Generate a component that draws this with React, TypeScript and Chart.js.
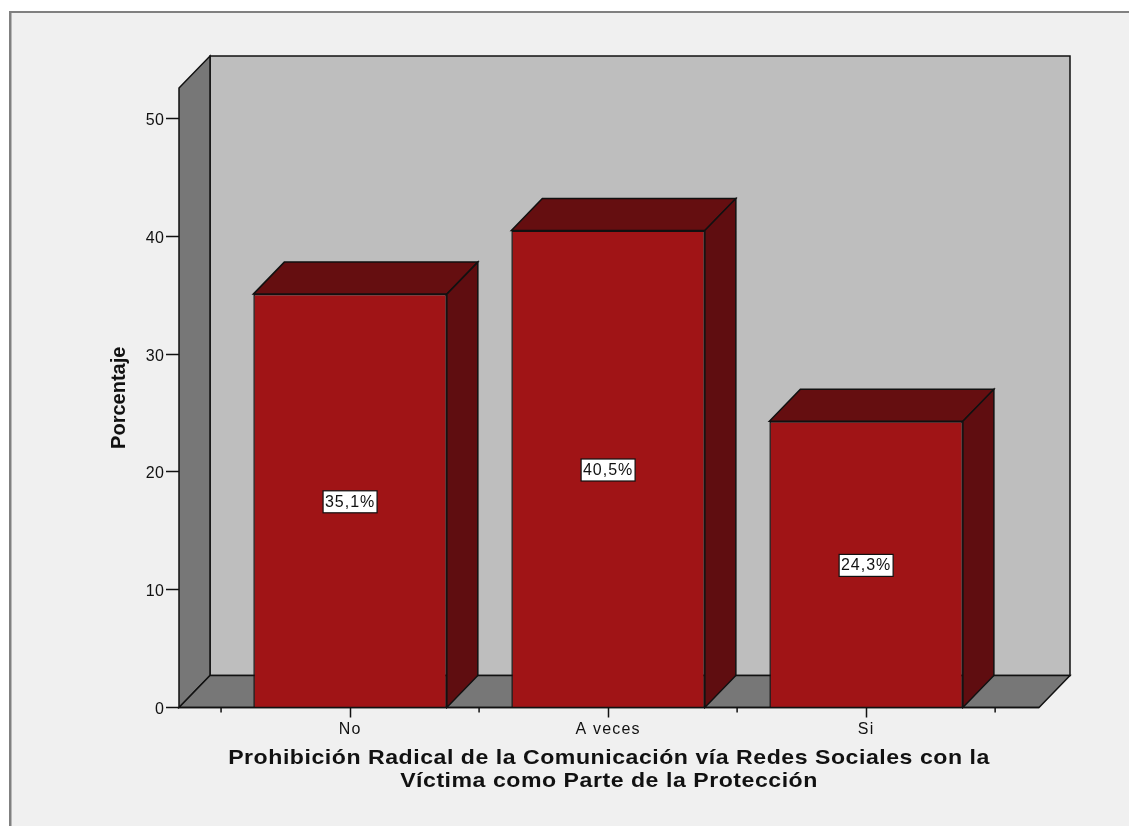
import React, { useEffect, useRef } from "react";
import { Chart, registerables } from "chart.js";

Chart.register(...registerables);

const categories = ["No", "A veces", "Si"];
const percentages = [35.1, 40.5, 24.3];
const valueLabels = ["35,1%", "40,5%", "24,3%"];
const yTicks = [0, 10, 20, 30, 40, 50];
const xTitle = [
  "Prohibición Radical de la Comunicación vía Redes Sociales con la",
  "Víctima como Parte de la Protección",
];
const yTitle = "Porcentaje";

const FONT = "'Liberation Sans', Arial, sans-serif";
const INK = "#111111";
const DEPTH_X = 31;
const DEPTH_Y = 32;
const AXIS_LEFT = -0.663;
const AXIS_RIGHT = 2.67;

function poly(ctx: CanvasRenderingContext2D, pts: number[][], fill: string) {
  ctx.beginPath();
  pts.forEach(([x, y], i) => (i ? ctx.lineTo(x, y) : ctx.moveTo(x, y)));
  ctx.closePath();
  ctx.fillStyle = fill;
  ctx.fill();
  ctx.strokeStyle = INK;
  ctx.lineWidth = 1.5;
  ctx.stroke();
}

function spaced(scale: any, method: string, spacing: string, stretch = 1) {
  if (scale[`__${method}`]) return;
  scale[`__${method}`] = true;
  const original = scale[method];
  scale[method] = function (...args: any[]) {
    const ctx = scale.ctx;
    const cx = (scale.left + scale.right) / 2;
    ctx.save();
    ctx.letterSpacing = spacing;
    ctx.translate(cx, 0);
    ctx.scale(stretch, 1);
    ctx.translate(-cx, 0);
    original.apply(scale, args);
    ctx.restore();
  };
}

const scene = {
  id: "scene",
  beforeDraw(chart: any) {
    const { ctx, width, height } = chart;
    const xs = chart.scales.x;
    const ys = chart.scales.y;
    spaced(xs, "drawTitle", "0.48px", 1.1);
    spaced(xs, "drawLabels", "1.2px");
    spaced(ys, "drawLabels", "0.2px");
    ctx.save();
    ctx.fillStyle = "#ffffff";
    ctx.fillRect(0, 0, width, height);
    ctx.fillStyle = "#f0f0f0";
    ctx.fillRect(10, 12, width - 10, height - 12);
    ctx.fillStyle = "#808080";
    ctx.fillRect(9, 11, width - 9, 2);
    ctx.fillRect(9, 11, 2.5, height - 11);

    const l = xs.left;
    const r = xs.right;
    const b = ys.bottom;
    const t = ys.top;
    poly(ctx, [[l + DEPTH_X, t - DEPTH_Y], [r + DEPTH_X, t - DEPTH_Y], [r + DEPTH_X, b - DEPTH_Y], [l + DEPTH_X, b - DEPTH_Y]], "#bebebe");
    poly(ctx, [[l, t], [l + DEPTH_X, t - DEPTH_Y], [l + DEPTH_X, b - DEPTH_Y], [l, b]], "#777777");
    poly(ctx, [[l, b], [l + DEPTH_X, b - DEPTH_Y], [r + DEPTH_X, b - DEPTH_Y], [r, b]], "#777777");

    ctx.strokeStyle = INK;
    ctx.lineWidth = 1.5;
    ctx.beginPath();
    categories.concat("").forEach((_, i) => {
      const x = xs.getPixelForValue(i - 0.5);
      ctx.moveTo(x, b);
      ctx.lineTo(x, b + 5);
    });
    ctx.stroke();
    ctx.restore();
  },
  beforeDatasetsDraw(chart: any) {
    const { ctx } = chart;
    const bottom = chart.scales.y.bottom;
    ctx.save();
    chart.getDatasetMeta(0).data.forEach((bar: any) => {
      const half = bar.width / 2;
      const a = bar.x - half;
      const c = bar.x + half;
      const y = bar.y;
      poly(ctx, [[a, y], [a + DEPTH_X, y - DEPTH_Y], [c + DEPTH_X, y - DEPTH_Y], [c, y]], "#650e10");
      poly(ctx, [[c, y], [c + DEPTH_X, y - DEPTH_Y], [c + DEPTH_X, bottom - DEPTH_Y], [c, bottom]], "#5f0d10");
    });
    ctx.restore();
  },
  afterDatasetsDraw(chart: any) {
    const { ctx } = chart;
    const ys = chart.scales.y;
    ctx.save();
    ctx.font = `16px ${FONT}`;
    ctx.textAlign = "center";
    ctx.textBaseline = "middle";
    ctx.letterSpacing = "1px";
    chart.getDatasetMeta(0).data.forEach((bar: any, i: number) => {
      const my = ys.getPixelForValue(percentages[i] / 2) + 1;
      const w = 54;
      const h = 22;
      ctx.fillStyle = "#ffffff";
      ctx.strokeStyle = INK;
      ctx.lineWidth = 1.2;
      ctx.fillRect(bar.x - w / 2, my - h / 2, w, h);
      ctx.strokeRect(bar.x - w / 2, my - h / 2, w, h);
      ctx.fillStyle = INK;
      ctx.fillText(valueLabels[i], bar.x, my + 0.5);
    });
    const xs = chart.scales.x;
    ctx.strokeStyle = INK;
    ctx.lineWidth = 1.5;
    ctx.beginPath();
    ctx.moveTo(xs.left, ys.bottom);
    ctx.lineTo(xs.right, ys.bottom);
    ctx.stroke();
    ctx.restore();
  },
};

export default function App() {
  const ref = useRef<HTMLCanvasElement>(null);
  useEffect(() => {
    const chart = new Chart(ref.current!, {
      type: "bar",
      data: {
        labels: categories,
        datasets: [
          {
            data: percentages,
            backgroundColor: "#a01416",
            borderColor: INK,
            borderWidth: 1.5,
            categoryPercentage: 0.75,
            barPercentage: 1,
          },
        ],
      },
      plugins: [scene],
      options: {
        responsive: false,
        animation: false,
        events: [],
        layout: { padding: { left: 0, right: 90, top: 88, bottom: 0 } },
        plugins: { legend: { display: false }, tooltip: { enabled: false } },
        scales: {
          x: {
            type: "category",
            afterBuildTicks: (s: any) => {
              s._startValue = AXIS_LEFT;
              s._valueRange = AXIS_RIGHT - AXIS_LEFT;
            },
            afterFit: (s: any) => {
              s.height = 118.5;
            },
            grid: { offset: false, drawOnChartArea: false, tickLength: 10, tickColor: INK, tickWidth: 1.5 },
            border: { display: false },
            ticks: { color: INK, font: { family: FONT, size: 16 }, padding: 2, maxRotation: 0, autoSkip: false },
            title: {
              display: true,
              text: xTitle,
              color: INK,
              font: { family: FONT, size: 21, weight: "bold", lineHeight: 1.1 },
              padding: { top: 0, bottom: 33 },
            },
          },
          y: {
            type: "linear",
            position: "left",
            min: 0,
            max: 52.6,
            afterBuildTicks: (s: any) => {
              s.ticks = yTicks.map((value) => ({ value }));
            },
            afterFit: (s: any) => {
              s.width = 179;
            },
            grid: { drawOnChartArea: false, tickLength: 13, tickColor: INK, tickWidth: 1.5 },
            border: { display: false },
            ticks: { color: INK, font: { family: FONT, size: 16 }, padding: 2, labelOffset: 2 },
            title: {
              display: true,
              text: yTitle,
              color: INK,
              font: { family: FONT, size: 20, weight: "bold", lineHeight: 1.2 },
              padding: { top: 107, bottom: 0 },
            },
          },
        },
      },
    } as any);
    return () => chart.destroy();
  }, []);
  return (
    <div style={{ position: "absolute", left: 0, top: 0, width: 1129, height: 826, overflow: "hidden" }}>
      <canvas ref={ref} width={1129} height={826} style={{ display: "block" }} />
    </div>
  );
}
